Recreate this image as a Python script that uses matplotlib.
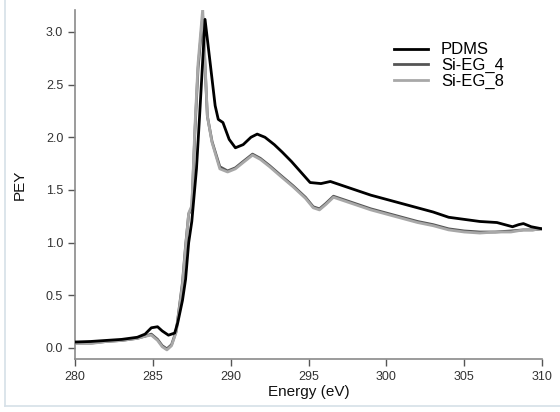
import matplotlib
matplotlib.use('Agg')
import matplotlib.pyplot as plt
from matplotlib.lines import Line2D

# PDMS
pdms_x = [280, 281, 282, 283, 284, 284.5, 284.9, 285.3, 285.6, 286.0, 286.4, 286.6, 286.9,
          287.1, 287.3, 287.5, 287.8, 288.0, 288.35, 288.7, 289.0, 289.2, 289.5, 289.9,
          290.3, 290.8, 291.3, 291.7, 292.2, 292.8, 293.3, 293.9, 294.5, 295.1, 295.8,
          296.4, 297.0, 298.0, 299.0, 300.0, 301.0, 302.0, 303.0, 304.0, 305.0, 306.0,
          307.1, 307.6, 308.1, 308.5, 308.8, 309.3, 310]
pdms_y = [0.055, 0.06, 0.07, 0.08, 0.10, 0.13, 0.19, 0.20, 0.16, 0.12, 0.14, 0.24, 0.45,
          0.65, 1.0, 1.2, 1.7, 2.2, 3.12, 2.68, 2.3, 2.17, 2.14, 1.98,
          1.9, 1.93, 2.0, 2.03, 2.0, 1.93, 1.86, 1.77, 1.67, 1.57, 1.56,
          1.58, 1.55, 1.50, 1.45, 1.41, 1.37, 1.33, 1.29, 1.24, 1.22, 1.20,
          1.19, 1.17, 1.15, 1.17, 1.18, 1.15, 1.13]

# Si-EG_4
eg4_x = [280, 281, 282, 283, 284, 284.5, 284.9, 285.3, 285.6, 285.9, 286.2, 286.5, 286.9,
         287.1, 287.3, 287.5, 287.7, 287.9, 288.2, 288.5, 288.8, 289.3, 289.8, 290.3,
         290.8, 291.4, 291.9, 292.5, 293.2, 294.0, 294.8, 295.3, 295.7, 296.1, 296.6,
         297.2, 298.0, 299.0, 300.0, 301.0, 302.0, 303.0, 304.0, 305.0, 306.0, 307.0,
         308.0, 308.8, 309.4, 310]
eg4_y = [0.045, 0.045, 0.06, 0.07, 0.09, 0.11, 0.13, 0.08, 0.02, -0.01, 0.03, 0.16, 0.62,
         0.97, 1.27, 1.33, 2.05, 2.65, 3.15, 2.2, 1.96, 1.72, 1.68, 1.71,
         1.77, 1.84, 1.80, 1.73, 1.64, 1.54, 1.43, 1.34, 1.32, 1.37, 1.44,
         1.41, 1.37, 1.32, 1.28, 1.24, 1.20, 1.17, 1.13, 1.11, 1.10, 1.10,
         1.11, 1.12, 1.12, 1.13]

# Si-EG_8
eg8_x = [280, 281, 282, 283, 284, 284.5, 284.9, 285.3, 285.6, 285.9, 286.2, 286.5, 286.9,
         287.1, 287.3, 287.5, 287.7, 287.9, 288.2, 288.5, 288.8, 289.3, 289.8, 290.3,
         290.8, 291.4, 291.9, 292.5, 293.2, 294.0, 294.8, 295.3, 295.7, 296.1, 296.6,
         297.2, 298.0, 299.0, 300.0, 301.0, 302.0, 303.0, 304.0, 305.0, 306.0, 307.0,
         308.0, 308.8, 309.4, 310]
eg8_y = [0.04, 0.04, 0.06, 0.07, 0.09, 0.11, 0.12, 0.07, 0.01, -0.02, 0.02, 0.15, 0.6,
         0.95, 1.28, 1.35, 2.1, 2.7, 3.22, 2.2, 1.95, 1.7, 1.67, 1.7,
         1.76, 1.83, 1.79, 1.72, 1.63, 1.53, 1.42, 1.33, 1.31, 1.36, 1.43,
         1.40, 1.36, 1.31, 1.27, 1.23, 1.19, 1.16, 1.12, 1.10, 1.09, 1.10,
         1.10, 1.12, 1.12, 1.13]

xticks = [280, 285, 290, 295, 300, 305, 310]
yticks = [0.0, 0.5, 1.0, 1.5, 2.0, 2.5, 3.0]

plt.rcParams['font.family'] = ['Liberation Sans', 'DejaVu Sans']

fig = plt.figure(figsize=(5.6, 4.12), dpi=100)
ax = fig.add_axes([0.134, 0.129, 0.834, 0.847])

ax.plot(pdms_x, pdms_y, color='#000000', lw=2.0, label='PDMS', zorder=3)
ax.plot(eg4_x, eg4_y, color='#555555', lw=2.0, label='Si-EG_4', zorder=2)
ax.plot(eg8_x, eg8_y, color='#a8a8a8', lw=2.0, label='Si-EG_8', zorder=2.5)

ax.set_xlim(280, 310)
ax.set_ylim(-0.105, 3.21)
ax.set_xticks(xticks)
ax.set_yticks(yticks)
ax.set_xticklabels([str(v) for v in xticks])
ax.set_yticklabels(['%.1f' % v for v in yticks])

for s in ['top', 'right']:
    ax.spines[s].set_visible(False)
for s in ['left', 'bottom']:
    ax.spines[s].set_color('#8a8a8a')
    ax.spines[s].set_linewidth(1.2)
ax.tick_params(colors='#333333', labelsize=9, length=5, width=1, direction='out')
ax.tick_params(axis='both', color='#555555')

ax.set_xlabel('Energy (eV)', fontsize=11, color='#111111', labelpad=2)
ax.set_ylabel('PEY', fontsize=11, color='#111111', labelpad=14)

ax.legend(loc='upper right', bbox_to_anchor=(0.95, 0.95), frameon=False, fontsize=12,
          handlelength=2.0, handletextpad=0.8, labelspacing=0.05)

# light frame around the picture
fig.add_artist(Line2D([5 / 560, 5 / 560], [6 / 412, 1.0], transform=fig.transFigure,
                      color='#d6e0e8', lw=1.2))
fig.add_artist(Line2D([5 / 560, 1.0], [6 / 412, 6 / 412], transform=fig.transFigure,
                      color='#d6e0e8', lw=1.2))

fig.savefig('out.png', dpi=100)
